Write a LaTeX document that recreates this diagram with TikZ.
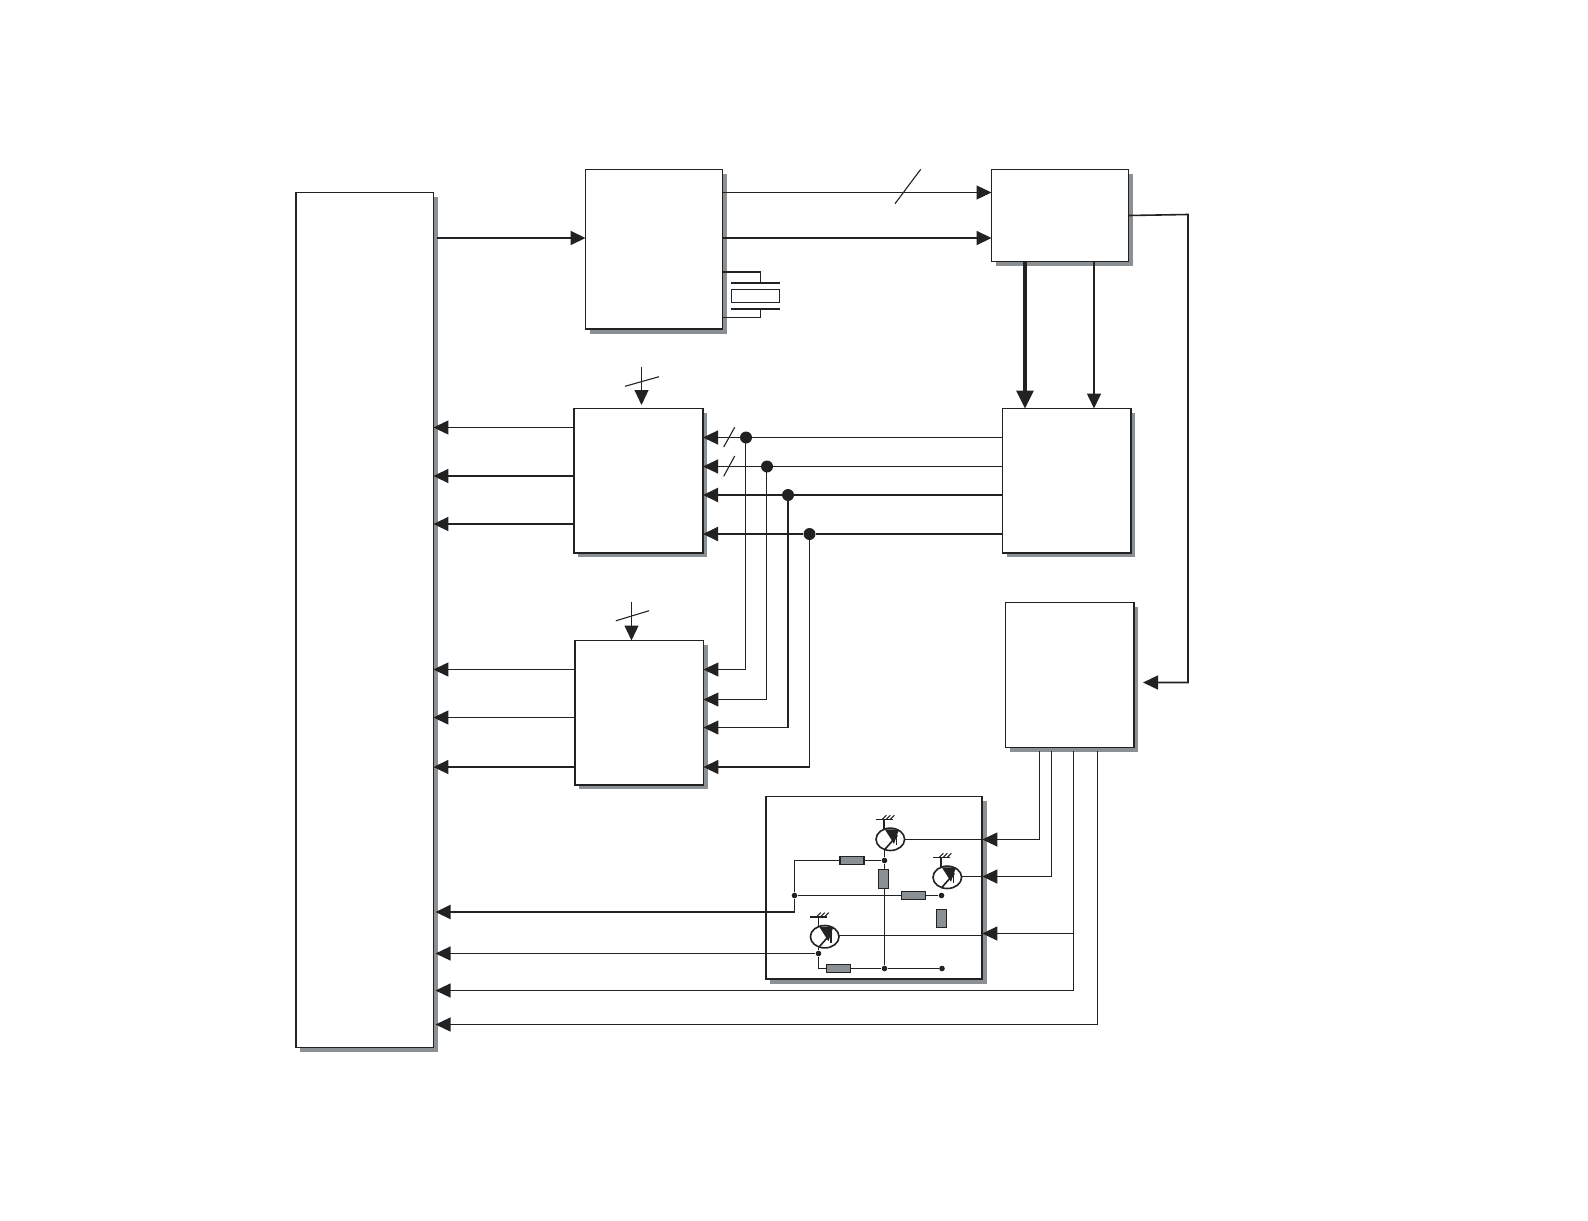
\documentclass[tikz,border=0pt]{standalone}
\usetikzlibrary{arrows.meta,shadows}
\definecolor{ink}{HTML}{222222}
\definecolor{shade}{HTML}{8A9094}
\tikzset{
  blk/.style={draw=ink,fill=white,line width=0.6pt,inner sep=0pt,outer sep=0pt,anchor=north west,
    general shadow={shadow xshift=2.2pt,shadow yshift=-2.2pt,fill=shade}},
  tip/.style={-{Triangle[length=7.5pt,width=7pt,color=ink]}},
  bigtip/.style={-{Triangle[length=9pt,width=8.5pt,color=ink]}},
  thinl/.style={draw=ink,line width=0.55pt},
  midl/.style={draw=ink,line width=0.8pt},
  thickl/.style={draw=ink,line width=1pt},
  heavyl/.style={draw=ink,line width=1.6pt},
  dot/.style={circle,fill=ink,inner sep=0pt,minimum size=6pt},
  sdot/.style={circle,fill=ink,inner sep=0pt,minimum size=2.8pt},
  res/.style={draw=ink,fill=shade,line width=0.55pt,inner sep=0pt,outer sep=0pt},
  hres/.style={res,minimum width=12pt,minimum height=4pt},
  vres/.style={res,minimum width=5pt,minimum height=9.6pt},
  transistor/.pic={
    \draw[midl,fill=white] (0,0) ellipse [x radius=14.3,y radius=11.2];
    \fill[ink] (-5.5,-10) -- (8.7,-10) -- (3.7,4.5) -- cycle;
    \draw[thinl] (6.3,-6) -- (6.3,6);
    \draw[midl] (-6,10.7) -- (7,-4);
    \draw[midl] (-6.3,-20) -- (-6.3,-10);
    \draw[midl] (-14.3,-20) -- (2.3,-20);
    \draw[thinl] (-8,-20) -- (-4,-24) (-4,-20) -- (0,-24) (0,-20) -- (4,-24);
  }
}
\begin{document}
\begin{tikzpicture}[x=0.5pt,y=-0.5pt]
\useasboundingbox (0,0) rectangle (1588,1220);
% blocks
\node[blk,minimum width=68.7pt,minimum height=427.5pt] (main) at (296,192.5) {};
\node[blk,minimum width=68.5pt,minimum height=79.8pt] (clk) at (585.5,169.5) {};
\node[blk,minimum width=68.5pt,minimum height=46pt] (tr) at (991.5,169.5) {};
\node[blk,minimum width=64.5pt,minimum height=72.2pt] (mla) at (574,408.5) {};
\node[blk,minimum width=64.2pt,minimum height=72.2pt] (mlb) at (575,640.5) {};
\node[blk,minimum width=64.2pt,minimum height=72.2pt] (mr) at (1002.5,408.5) {};
\node[blk,minimum width=64.2pt,minimum height=72.5pt] (lr) at (1005.5,602.5) {};
\node[blk,minimum width=108.3pt,minimum height=91.4pt,line width=0.8pt] (sub) at (765.7,796.3) {};
\foreach \n in {main,clk,tr,mla,mlb,mr,lr,sub}
  \draw[ink,line width=0.9pt] (\n.north east) -- (\n.south east) -- (\n.south west);
\coordinate (mainr) at (435.5,0);
% top row
\draw[thickl,tip] (437,238) -- (clk.west |- 0,238);
\draw[thinl,tip] (clk.east |- 0,192.5) -- (tr.west |- 0,192.5);
\draw[thinl] (895,203.7) -- (920.7,169.3);
\draw[thickl,tip] (clk.east |- 0,238) -- (tr.west |- 0,238);
% crystal
\coordinate (xa) at (760.5,282.5);
\coordinate (xb) at (760.5,309);
\draw[midl] (clk.east |- 0,272) -| (xa);
\draw[thinl] (clk.east |- 0,317.5) -| (xb);
\draw[thickl] (731.3,282.5) -- (779.7,282.5) (731.3,309) -- (779.7,309);
\draw[thinl,line width=0.7pt] (731.5,289.5) rectangle (779.5,302.5);
% feeds into the two middle blocks
\draw[thinl,tip] (641.5,366.5) -- (641.5,405);
\draw[thinl] (625,386.3) -- (659,376.7);
\draw[thinl,tip] (631.5,601.5) -- (mlb.north -| 631.5,0);
\draw[thinl] (615.8,620.8) -- (649,610.7);
% right side
\draw[midl,tip] (tr.east) -- (1188,214.5) |- (1143,682.5);
\draw[heavyl,bigtip] (tr.south -| 1025,0) -- (mr.north -| 1025,0);
\draw[midl,tip] (tr.south -| 1094,0) -- (mr.north -| 1094,0);
% left outputs
\draw[thinl,tip] (mla.west |- 0,427.5) -- (main.east |- 0,427.5);
\draw[midl,tip] (mla.west |- 0,476) -- (main.east |- 0,476);
\draw[midl,tip] (mla.west |- 0,524) -- (main.east |- 0,524);
\draw[thinl,tip] (mlb.west |- 0,669.5) -- (main.east |- 0,669.5);
\draw[thinl,tip] (mlb.west |- 0,717.5) -- (main.east |- 0,717.5);
\draw[midl,tip] (mlb.west |- 0,767) -- (main.east |- 0,767);
% bus between middle blocks
\node[dot] (d1) at (746,437.5) {};
\node[dot] (d2) at (767,466.5) {};
\node[dot] (d3) at (788,495) {};
\node[dot] (d4) at (809.5,534) {};
\draw[thinl,tip] (mr.west |- d1) -- (d1) -- (mla.east |- d1);
\draw[thinl,tip] (mr.west |- d2) -- (d2) -- (mla.east |- d2);
\draw[thickl,tip] (mr.west |- d3) -- (d3) -- (mla.east |- d3);
\draw[thickl,tip] (mr.west |- d4) -- (d4) -- (mla.east |- d4);
\draw[thinl] (723.7,447) -- (734.7,427.3) (723.7,476.3) -- (734.7,456);
\draw[thinl,tip] (745.5,437.5) |- (mlb.east |- 0,669.5);
\draw[thinl,tip] (766.5,466.5) |- (mlb.east |- 0,699.5);
\draw[thickl] (788,495) -- (788,727.5);
\draw[thinl,tip] (788.4,727.5) -- (mlb.east |- 0,727.5);
\draw[thinl] (809.5,534) -- (809.5,767);
\draw[midl,tip] (809.5,767) -- (mlb.east |- 0,767);
% transistors
\pic (t1) at (890.3,839.3) {transistor};
\pic (t2) at (947.3,877.3) {transistor};
\pic (t3) at (824.7,936.7) {transistor};
% sub block wiring
\node[sdot] (j1) at (884.5,860.5) {};
\node[sdot] (j2) at (794.5,895.5) {};
\node[sdot] (j3) at (941.5,895.5) {};
\node[sdot] (j4) at (818.5,953.5) {};
\node[sdot] (j5) at (884.5,968.5) {};
\node[sdot] (j6) at (942,968.5) {};
\draw[thinl] (j2) -- (794.5,912);
\draw[thickl,tip] (794.5,912) -- (mainr |- 0,912);
\draw[thinl] (j2) |- (j1);
\draw[thinl] (j2) -- (j3);
\draw[thinl] (884.5,850) -- (j1) -- (j5);
\draw[thinl,tip] (j4) -- (mainr |- j4);
\draw[thinl] (818.5,947.5) -- (j4) |- (j5) -- (j6);
\draw[thinl] (904.7,839.5) -- (sub.east |- 0,839.5);
\draw[thinl] (961.6,876.5) -- (sub.east |- 0,876.5);
\draw[thinl] (839,935.5) -- (sub.east |- 0,935.5);
\node[hres] (r1) at (852,860.5) {};
\node[vres] (r2) at (883.5,879) {};
\node[hres] (r3) at (913.2,895.5) {};
\node[hres] (r4) at (838.7,968.5) {};
\node[res,minimum width=5pt,minimum height=9.2pt] (r5) at (941.5,918.5) {};
% outputs of the lower right block
\draw[thinl] (1039.5,751) -- (1039.5,839.5);
\draw[thinl,tip] (1039.5,839.5) -- (sub.east |- 0,839.5);
\draw[midl] (1051.5,751) -- (1051.5,876.5);
\draw[thinl,tip] (1051.5,876.5) -- (sub.east |- 0,876.5);
\draw[midl] (1073.5,751) -- (1073.5,990.5);
\draw[thinl,tip] (1073.5,990.5) -- (mainr |- 0,990.5);
\draw[thinl,tip] (1073.5,933.5) -- (sub.east |- 0,933.5);
\draw[thinl,tip] (1097.5,751) |- (mainr |- 0,1024.5);
\end{tikzpicture}
\end{document}
